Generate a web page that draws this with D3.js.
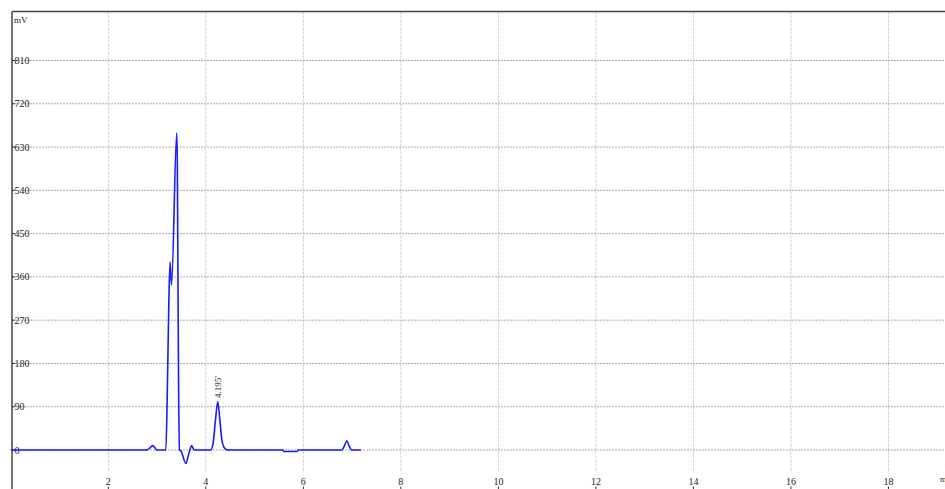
<!DOCTYPE html>
<html lang="en">

<head>
    <meta charset="UTF-8" />
    <title>Chromatogram</title>
    <script src="https://d3js.org/d3.v7.min.js"></script>
    <style>
        body { margin: 0; background: #fff; overflow: hidden; }
        text { font-family: "Liberation Serif", "DejaVu Serif", serif; fill: #222; }
    </style>
</head>

<body>
    <div id="chart"></div>

    <script>
        var w = 945;
        var h = 489;

        // Signal trace (time in min, signal in mV)
        var times = [0, 2.79, 2.85, 2.91, 2.96, 2.99, 3.18, 3.21, 3.24, 3.266, 3.297, 3.403, 3.415, 3.44, 3.46,
            3.49, 3.59, 3.66, 3.71, 3.76, 4.10, 4.15, 4.20, 4.245, 4.29, 4.33, 4.37, 4.42, 4.48,
            5.58, 5.60, 5.87, 5.89, 6.79, 6.84, 6.89, 6.94, 6.99, 7.18];
        var signal = [0, 0, 4, 9, 4, 0, 0, 120, 300, 391, 343, 659, 600, 150, 0,
            -2, -28, -4, 9, 0, 0, 15, 65, 100, 60, 20, 6, 1, 0,
            0, -3, -3, 0, 0, 8, 19, 8, 0, 0];

        var yTicks = [0, 90, 180, 270, 360, 450, 540, 630, 720, 810];
        var xTicks = [2, 4, 6, 8, 10, 12, 14, 16, 18];

        var peakLabels = [{ t: 4.245, v: 100, label: "4.195'" }];

        var data = times.map(function (t, i) { return { t: t, v: signal[i] }; });

        var svg = d3.select("#chart")
            .append("svg")
            .attr("width", w)
            .attr("height", h);

        var xScale = d3.scaleLinear()
            .domain([0, 19.16])
            .range([10.8, 945]);

        var yScale = d3.scaleLinear()
            .domain([0, 810])
            .range([450, 60.5]);

        var plotLeft = 12, plotTop = 11.5;

        // vertical grid
        svg.selectAll(".vgrid")
            .data(xTicks)
            .enter()
            .append("line")
            .attr("class", "vgrid")
            .attr("x1", function (d) { return xScale(d); })
            .attr("x2", function (d) { return xScale(d); })
            .attr("y1", plotTop)
            .attr("y2", 472)
            .style("stroke", "#cfcfcf")
            .style("stroke-width", 1)
            .style("stroke-dasharray", "3,1");

        // horizontal grid
        svg.selectAll(".hgrid")
            .data(yTicks)
            .enter()
            .append("line")
            .attr("class", "hgrid")
            .attr("x1", plotLeft)
            .attr("x2", w)
            .attr("y1", function (d) { return yScale(d); })
            .attr("y2", function (d) { return yScale(d); })
            .style("stroke", "#ababab")
            .style("stroke-width", 1)
            .style("stroke-dasharray", "2,1");

        // frame: top and left
        svg.append("line")
            .attr("x1", plotLeft).attr("x2", w)
            .attr("y1", plotTop).attr("y2", plotTop)
            .style("stroke", "#444").style("stroke-width", 1.5);
        svg.append("line")
            .attr("x1", plotLeft).attr("x2", plotLeft)
            .attr("y1", plotTop).attr("y2", h)
            .style("stroke", "#444").style("stroke-width", 1.5);

        // y ticks and labels
        svg.selectAll(".ytick")
            .data(yTicks)
            .enter()
            .append("line")
            .attr("x1", plotLeft).attr("x2", plotLeft + 3)
            .attr("y1", function (d) { return yScale(d); })
            .attr("y2", function (d) { return yScale(d); })
            .style("stroke", "#333");

        svg.selectAll(".ylabel")
            .data(yTicks)
            .enter()
            .append("text")
            .attr("x", 14.5)
            .attr("y", function (d) { return yScale(d) + 3.5; })
            .style("font-size", "10px")
            .text(function (d) { return d; });

        svg.append("text")
            .attr("x", 14)
            .attr("y", 23)
            .style("font-size", "9px")
            .text("mV");

        // x labels and ticks
        svg.selectAll(".xlabel")
            .data(xTicks)
            .enter()
            .append("text")
            .attr("x", function (d) { return xScale(d); })
            .attr("y", 485)
            .attr("text-anchor", "middle")
            .style("font-size", "10px")
            .text(function (d) { return d; });

        svg.selectAll(".xtick")
            .data(xTicks)
            .enter()
            .append("line")
            .attr("x1", function (d) { return xScale(d); })
            .attr("x2", function (d) { return xScale(d); })
            .attr("y1", 486.5).attr("y2", 489)
            .style("stroke", "#333");

        svg.append("text")
            .attr("x", 940)
            .attr("y", 482)
            .style("font-size", "8px")
            .text("min");

        // trace
        var line = d3.line()
            .curve(d3.curveMonotoneX)
            .x(function (d) { return xScale(d.t); })
            .y(function (d) { return yScale(d.v); });

        svg.append("path")
            .datum(data)
            .attr("d", line)
            .style("fill", "none")
            .style("stroke", "#1a1aff")
            .style("stroke-width", 1.6)
            .style("stroke-linejoin", "round");

        // peak labels
        svg.selectAll(".plabel")
            .data(peakLabels)
            .enter()
            .append("text")
            .attr("transform", function (d) {
                return "translate(" + (xScale(d.t) + 3) + "," + (yScale(d.v) - 4) + ") rotate(-90)";
            })
            .style("font-size", "9px")
            .text(function (d) { return d.label; });
    </script>
</body>

</html>
